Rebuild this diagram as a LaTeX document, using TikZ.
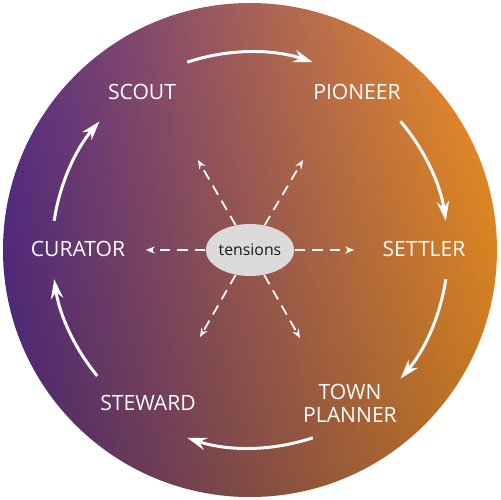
\documentclass[tikz,border=0pt]{standalone}
\usepackage{fontspec}
\setmainfont{Open Sans}
\usetikzlibrary{arrows.meta,fadings,shapes.geometric}
\definecolor{cpurple}{RGB}{90,46,138}
\definecolor{corange}{RGB}{244,148,38}
\definecolor{cgray}{RGB}{220,219,220}
\begin{document}
\begin{tikzpicture}[x=0.02cm,y=0.02cm,
  lbl/.style={text=white,font=\fontsize{12}{13}\selectfont,align=center,inner sep=0pt},
  cyc/.style={draw=white,line width=1.7pt,-{Stealth[length=11pt,width=7pt]}},
  ten/.style={draw=white,line width=1pt,dash pattern=on 6pt off 4pt,-{Stealth[length=5pt,width=4pt]}}]
\fill[white] (-250,-250) rectangle (250,250);
\useasboundingbox (-250,-250) rectangle (250,250);
\shade[left color=cpurple,right color=corange] (0,0) circle[radius=247];
\fill[black,fill opacity=0.22,path fading=north] (0,0) circle[radius=247];
% labels
\node[lbl] (scout) at (-108,158) {SCOUT};
\node[lbl] (pioneer) at (107,158) {PIONEER};
\node[lbl] (settler) at (174,1) {SETTLER};
\node[lbl] (planner) at (100,-153) {TOWN\\PLANNER};
\node[lbl] (steward) at (-102,-153) {STEWARD};
\node[lbl] (curator) at (-172,1) {CURATOR};
% cycle arcs
\draw[cyc] (108.5:198) arc[start angle=108.5,end angle=71.5,radius=198];
\draw[cyc] (40.5:198) arc[start angle=40.5,end angle=8.5,radius=198];
\draw[cyc] (-8.5:198) arc[start angle=-8.5,end angle=-40.5,radius=198];
\draw[cyc] (-71.5:198) arc[start angle=-71.5,end angle=-108.5,radius=198];
\draw[cyc] (219.5:198) arc[start angle=219.5,end angle=188.5,radius=198];
\draw[cyc] (171.5:198) arc[start angle=171.5,end angle=139.5,radius=198];
% tensions
\node[ellipse,fill=cgray,inner sep=0pt,minimum width=1.48cm,minimum height=1.04cm,
      font=\fontsize{9}{10}\selectfont,text={rgb,255:red,25;green,25;blue,25}] (t) at (0,0) {tensions};
\coordinate (tl) at (-104,0);
\coordinate (tr) at (104,0);
\coordinate (tul) at (-52,90);
\coordinate (tur) at (53,90);
\coordinate (tdl) at (-50,-87);
\coordinate (tdr) at (50,-88);
\foreach \c in {tl,tr,tul,tur,tdl,tdr} \draw[ten] (t) -- (\c);
\end{tikzpicture}
\end{document}
